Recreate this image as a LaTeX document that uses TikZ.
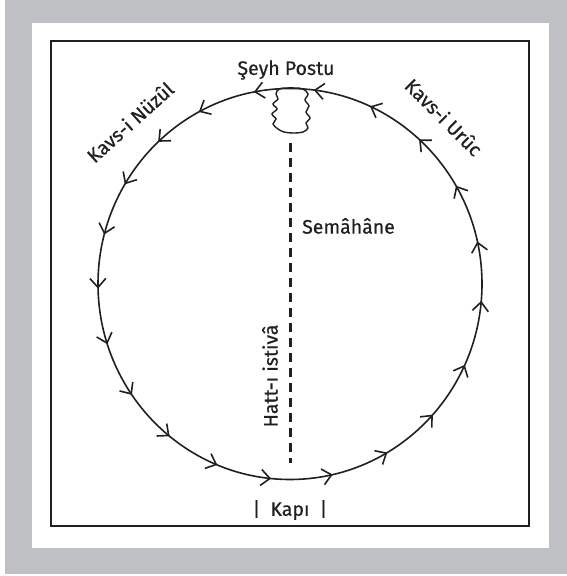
\documentclass[tikz,border=0pt]{standalone}
\usepackage{fontspec}
\usetikzlibrary{calc}
\setmainfont{Fira Sans}
\newfontfamily\lblfont{Fira Sans}[FakeBold=0.6]
\definecolor{framegray}{RGB}{191,192,196}
\definecolor{ink}{RGB}{35,31,32}
\begin{document}
\begin{tikzpicture}[x=1pt,y=1pt,
  lbl/.style={inner sep=0pt,text=ink,font=\lblfont\fontsize{19.5}{22}\selectfont},
  chev/.style={draw=ink,line width=1.6pt},
]
\useasboundingbox (0,0) rectangle (567,576);
% frame
\fill[framegray] (5,2) rectangle (567,576);
\fill[white] (32,28) rectangle (549,553);
\draw[ink,line width=2.2pt] (51,50) rectangle (529,535);
% circle
\coordinate (c) at (290,292);
\draw[ink,line width=1.6pt] (c) ellipse [x radius=192, y radius=195.5];
% arrows (counterclockwise)
\foreach \a in {82.5,100.5,118,133,149,165,181,197.6,214.2,230.8,247.4,264,282.5,300.1,317.7,335.2,354.7,372.2,389.8,407.4,425}{
  \draw[chev,shift={($(c)+(\a:192 and 195.5)$)},rotate=\a+90] (-9,8) -- (0,0) -- (-9,-8);
}
% seyh postu blob
\draw[ink,line width=1.4pt] plot[smooth cycle,tension=0.6] coordinates {
  (279,487) (276,482) (278,477) (273,472) (277,467) (272,462) (276,457) (273,452) (278,447) (284,444)
  (293,443) (303,444) (308,448) (306,453) (310,458) (306,464) (309,470) (305,476) (308,482) (303,487) (295,488) (287,488)};
% dashed axis
\coordinate (top) at (290,433);
\coordinate (bot) at (290,113);
\draw[ink,line width=3pt,dash pattern=on 9pt off 6pt] (top) -- (bot);
% labels
\node[lbl] (seyh) at (286,506) {Şeyh Postu};
\node[lbl,rotate=42] (nuzul) at (130,454) {Kavs-i Nüzûl};
\node[lbl,rotate=-45] (uruc) at (444,459) {Kavs-i Urûc};
\node[lbl,anchor=west] (sema) at (302,350) {Semâhâne};
\node[lbl,rotate=90] (hatt) at (270,200) {Hatt-ı istivâ};
\node[lbl] (kapi) at (290,66) {|\hspace{10pt}Kapı\hspace{10pt}|};
\end{tikzpicture}
\end{document}
